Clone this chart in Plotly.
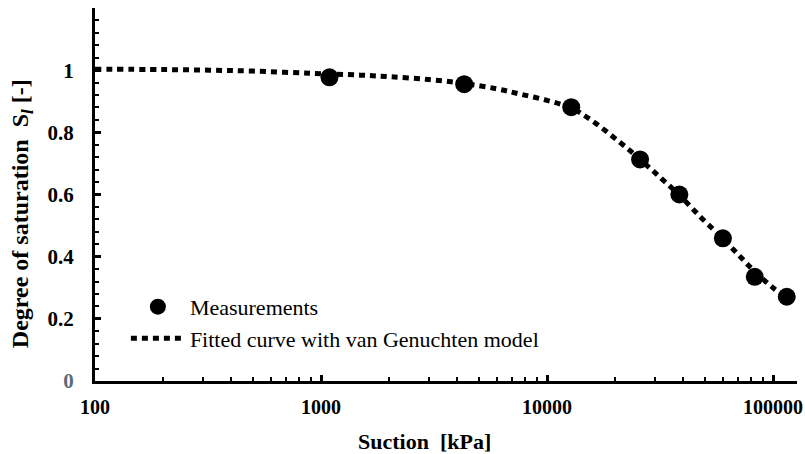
import plotly.graph_objects as go

# Measured data
meas_suction = [1090, 4300, 12800, 25800, 38500, 60000, 83000, 115000]
meas_sat = [0.977, 0.955, 0.881, 0.713, 0.600, 0.459, 0.335, 0.271]

# Fitted van Genuchten curve
fit_suction = [100, 200, 320, 500, 900, 1500, 2000, 3000, 4300, 6000, 7600, 10000,
               12800, 15500, 21000, 25800, 32000, 38500, 48000, 60000, 72000, 83000,
               100000, 115000]
fit_sat = [1.003, 1.002, 1.000, 0.997, 0.990, 0.984, 0.979, 0.970, 0.957, 0.940, 0.923,
           0.903, 0.878, 0.842, 0.768, 0.713, 0.652, 0.598, 0.526, 0.458, 0.398, 0.352,
           0.300, 0.268]

y_tickvals = [0, 0.2, 0.4, 0.6, 0.8, 1]
y_ticktext = ["<span style='color:#5b6b78'>0</span>", "0.2", "0.4", "0.6", "0.8", "1"]
x_tickvals = [100, 1000, 10000, 100000]
x_ticktext = ["100", "1000", "10000", "100000"]

FONT = "Liberation Serif"

fig = go.Figure()
fig.add_trace(go.Scatter(
    x=meas_suction, y=meas_sat, mode="markers", name="Measurements",
    marker=dict(color="black", size=18, symbol="circle"),
    legendgroup="a",
))
fig.add_trace(go.Scatter(
    x=fit_suction, y=fit_sat, mode="lines", name="Fitted curve with van Genuchten model",
    line=dict(color="black", width=5, dash="6px,5px", shape="spline"),
    legendgroup="b",
))

fig.update_layout(
    width=805, height=454,
    margin=dict(l=95, r=8, t=8, b=73, autoexpand=False),
    paper_bgcolor="white", plot_bgcolor="white",
    font=dict(family=FONT, color="black", size=20),
    showlegend=True,
    legend=dict(
        x=0.044, y=0.255, xanchor="left", yanchor="top",
        bgcolor="rgba(0,0,0,0)", font=dict(family=FONT, size=22, color="black"),
        traceorder="grouped", tracegroupgap=0, itemwidth=54,
    ),
    xaxis=dict(
        type="log", range=[2, 5.106], automargin=False,
        tickvals=x_tickvals, ticktext=x_ticktext,
        showline=True, linecolor="black", linewidth=3,
        ticks="inside", ticklen=6, tickwidth=3, tickcolor="black",
        showgrid=False, zeroline=False,
        tickfont=dict(family=FONT, size=20, color="black", weight="bold"),
        ticklabelstandoff=6,
        minor=dict(ticks="inside", ticklen=4, tickwidth=2, tickcolor="black", dtick="D1", showgrid=False),
    ),
    yaxis=dict(
        range=[0, 1.2], automargin=False,
        tickvals=y_tickvals, ticktext=y_ticktext,
        showline=True, linecolor="black", linewidth=3,
        ticks="inside", ticklen=6, tickwidth=3, tickcolor="black",
        showgrid=False, zeroline=False,
        tickfont=dict(family=FONT, size=21, color="black", weight="bold"),
        ticklabelstandoff=14,
        minor=dict(ticks="inside", ticklen=4, tickwidth=2, tickcolor="black", dtick=0.04, showgrid=False),
    ),
    annotations=[
        dict(text="<b>Suction  [kPa]</b>", xref="paper", yref="paper", x=0.469, y=-0.163,
             xanchor="center", yanchor="middle", showarrow=False,
             font=dict(family=FONT, size=22, color="black")),
        dict(text="<b>Degree of saturation  S<sub><i>l</i></sub> [-]</b>", xref="paper", yref="paper",
             x=-0.104, y=0.45, xanchor="center", yanchor="middle", textangle=-90, showarrow=False,
             font=dict(family=FONT, size=24, color="black")),
    ],
)

fig.write_html("out.html", config={"displayModeBar": False},
               post_script="document.body.style.margin='0';")
